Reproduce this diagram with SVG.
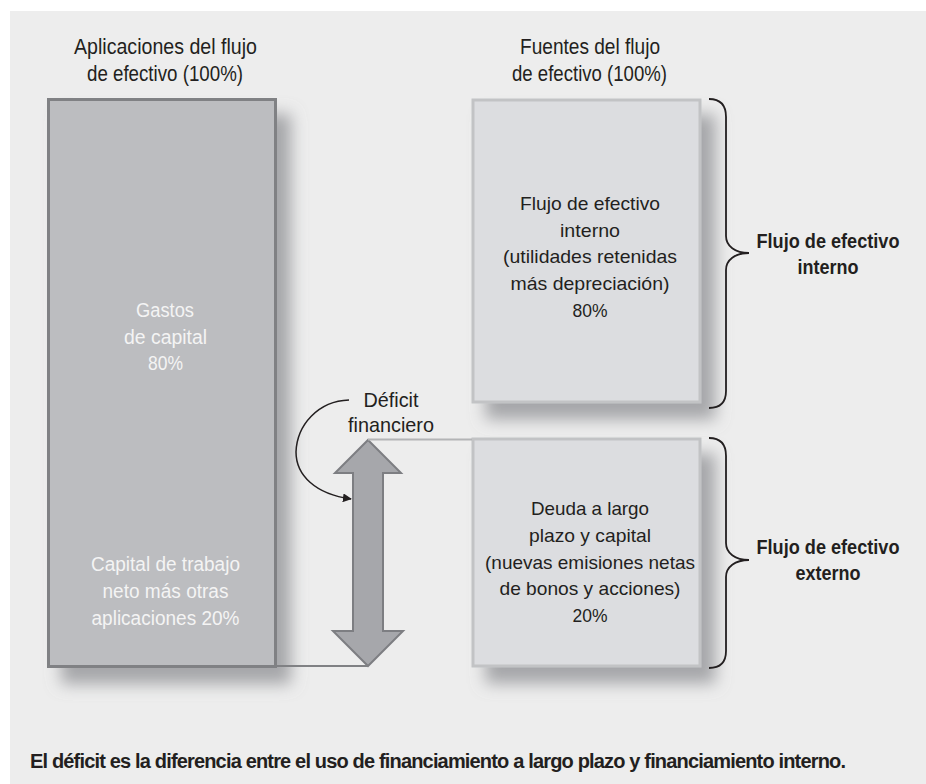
<svg xmlns="http://www.w3.org/2000/svg" width="926" height="784" viewBox="0 0 926 784">
<defs>
<filter id="sh" x="-20%" y="-20%" width="150%" height="150%">
<feGaussianBlur in="SourceAlpha" stdDeviation="8"/>
<feOffset dx="14" dy="16" result="b"/>
<feFlood flood-color="#8e8f93" flood-opacity="0.75"/>
<feComposite in2="b" operator="in"/>
<feMerge><feMergeNode/><feMergeNode in="SourceGraphic"/></feMerge>
</filter>
<marker id="ah" viewBox="0 0 10 10" refX="9" refY="5" markerWidth="9" markerHeight="9" markerUnits="userSpaceOnUse" orient="auto">
<path d="M0,0 L10,5 L0,10 z" fill="#231f20"/>
</marker>
<style>
text{font-family:"Liberation Sans Narrow","Liberation Sans",Arial,sans-serif;fill:#231f20;text-anchor:middle}
.t{font-size:21.5px}
.d{font-size:21px}
.b{font-size:18.5px}
.w{font-size:20px;fill:#f4f4f4}
.bold{font-size:20.5px;font-weight:bold}
.cap{font-size:20px;font-weight:bold}
.brace{fill:none;stroke:#231f20;stroke-width:1.8}
</style>
</defs>
<rect x="0" y="0" width="926" height="784" fill="#ffffff"/>
<rect x="10" y="11" width="916" height="773" fill="#ededed"/>

<g id="titulo-aplicaciones">
<text class="t" x="165.5" y="54" textLength="183" lengthAdjust="spacingAndGlyphs">Aplicaciones del flujo</text>
<text class="t" x="165" y="81" textLength="156" lengthAdjust="spacingAndGlyphs">de efectivo (100%)</text>
</g>
<g id="titulo-fuentes">
<text class="t" x="590" y="54" textLength="140" lengthAdjust="spacingAndGlyphs">Fuentes del flujo</text>
<text class="t" x="589.5" y="81" textLength="155" lengthAdjust="spacingAndGlyphs">de efectivo (100%)</text>
</g>

<g id="aplicaciones">
<rect x="48.5" y="99.5" width="227" height="567" fill="#bcbdc0" stroke="#808184" stroke-width="3" filter="url(#sh)"/>
<text class="w" x="165" y="317" textLength="58" lengthAdjust="spacingAndGlyphs">Gastos</text>
<text class="w" x="165.5" y="344" textLength="83" lengthAdjust="spacingAndGlyphs">de capital</text>
<text class="w" x="165.5" y="370" textLength="35" lengthAdjust="spacingAndGlyphs">80%</text>
<text class="w" x="165.5" y="571" textLength="149" lengthAdjust="spacingAndGlyphs">Capital de trabajo</text>
<text class="w" x="165.5" y="598" textLength="126" lengthAdjust="spacingAndGlyphs">neto más otras</text>
<text class="w" x="165.5" y="625" textLength="148" lengthAdjust="spacingAndGlyphs">aplicaciones 20%</text>
</g>

<g id="interno">
<rect x="473" y="100" width="227" height="302" fill="#dcdde0" stroke="#c2c3c5" stroke-width="3" filter="url(#sh)"/>
<text class="b" x="590" y="210" textLength="140" lengthAdjust="spacingAndGlyphs">Flujo de efectivo</text>
<text class="b" x="590" y="237" textLength="60" lengthAdjust="spacingAndGlyphs">interno</text>
<text class="b" x="590" y="263" textLength="174" lengthAdjust="spacingAndGlyphs">(utilidades retenidas</text>
<text class="b" x="590" y="290" textLength="159" lengthAdjust="spacingAndGlyphs">más depreciación)</text>
<text class="b" x="590" y="317" textLength="35" lengthAdjust="spacingAndGlyphs">80%</text>
</g>

<g id="externo">
<rect x="473" y="439" width="227" height="227" fill="#dcdde0" stroke="#c2c3c5" stroke-width="3" filter="url(#sh)"/>
<text class="b" x="590" y="515" textLength="118" lengthAdjust="spacingAndGlyphs">Deuda a largo</text>
<text class="b" x="590" y="542" textLength="122" lengthAdjust="spacingAndGlyphs">plazo y capital</text>
<text class="b" x="590" y="569" textLength="210" lengthAdjust="spacingAndGlyphs">(nuevas emisiones netas</text>
<text class="b" x="590" y="595" textLength="181" lengthAdjust="spacingAndGlyphs">de bonos y acciones)</text>
<text class="b" x="590" y="622" textLength="35" lengthAdjust="spacingAndGlyphs">20%</text>
</g>

<g id="llave-interno">
<path class="brace" d="M709,99 C720,99 726,105 726,117 L726,236 C726,246 735,253 749,253 C735,253 726,260 726,270 L726,391 C726,402 720,408 709,408"/>
<text class="bold" x="828" y="248" textLength="143" lengthAdjust="spacingAndGlyphs">Flujo de efectivo</text>
<text class="bold" x="828" y="274" textLength="61" lengthAdjust="spacingAndGlyphs">interno</text>
</g>

<g id="llave-externo">
<path class="brace" d="M709,438 C720,438 726,444 726,456 L726,543 C726,553 735,560 749,560 C735,560 726,567 726,577 L726,651 C726,662 720,668 709,668"/>
<text class="bold" x="828" y="554" textLength="143" lengthAdjust="spacingAndGlyphs">Flujo de efectivo</text>
<text class="bold" x="828" y="580" textLength="65" lengthAdjust="spacingAndGlyphs">externo</text>
</g>

<g id="deficit">
<text class="d" x="391" y="407" textLength="55" lengthAdjust="spacingAndGlyphs">Déficit</text>
<text class="d" x="391" y="432" textLength="86" lengthAdjust="spacingAndGlyphs">financiero</text>
<polygon points="368,440 401,473 383,473 383,631 403,631 368,666 333,631 353,631 353,473 335,473" fill="#a6a7ab" stroke="#7d7e82" stroke-width="2" stroke-linejoin="miter"/>
</g>

<g id="conectores">
<line x1="368" y1="439.5" x2="472" y2="439.5" stroke="#b3b4b6" stroke-width="2"/>
<line x1="276" y1="666" x2="368" y2="666" stroke="#808184" stroke-width="2"/>
<path d="M349,400 C318,401 297,425 296,452 C296,475 315,494 351,499" fill="none" stroke="#231f20" stroke-width="1.5" marker-end="url(#ah)"/>
</g>

<text class="cap" x="438" y="768" textLength="816">El déficit es la diferencia entre el uso de financiamiento a largo plazo y financiamiento interno.</text>
</svg>
